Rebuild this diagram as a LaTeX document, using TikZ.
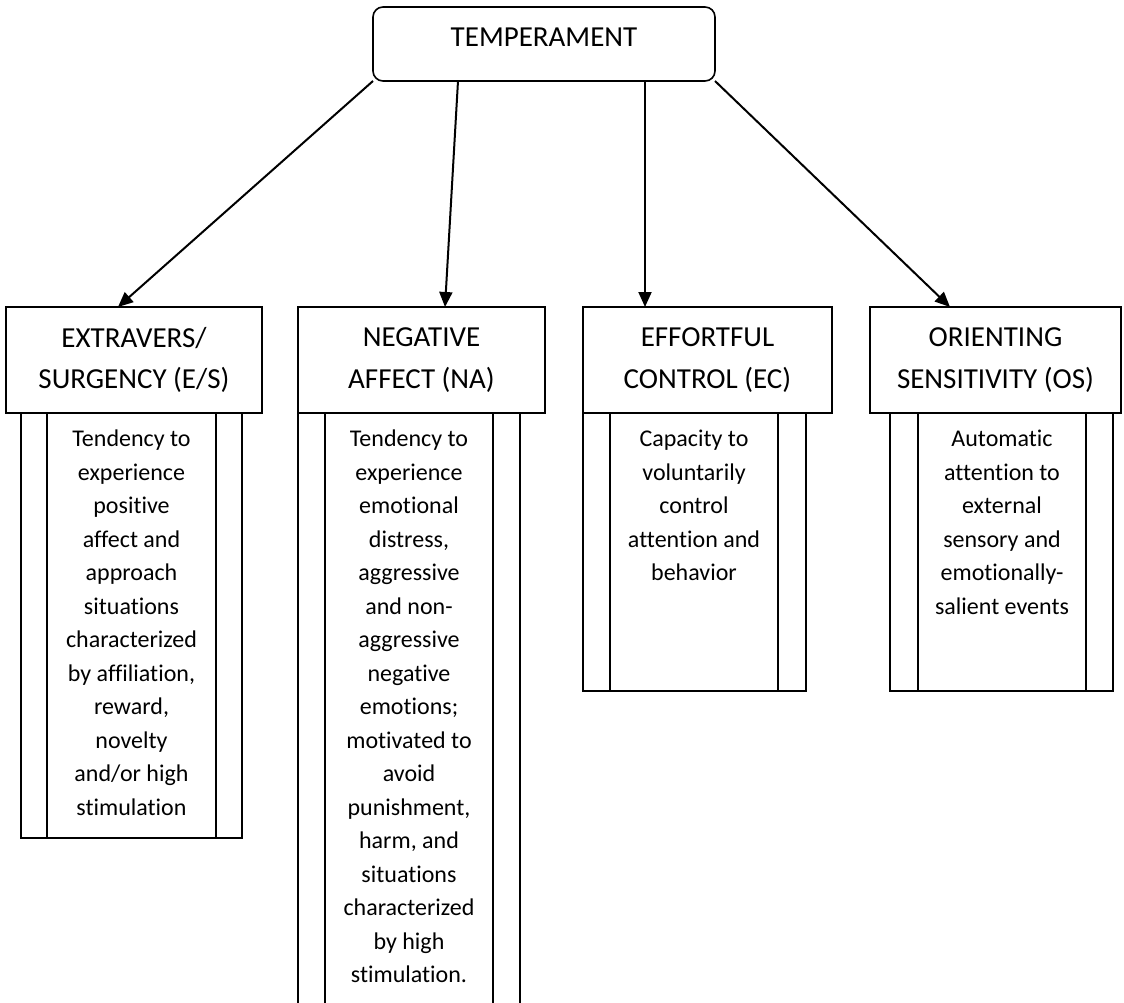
\documentclass[tikz,border=0pt]{standalone}
\usepackage{fontspec}
\setmainfont{Carlito}[Ligatures={NoCommon}]
\usetikzlibrary{arrows.meta}

\begin{document}
\begin{tikzpicture}[x=1pt,y=-1pt,
  every node/.style={inner sep=0pt, outer sep=0pt},
  rootbox/.style={draw, line width=1.6pt, rounded corners=10pt,
    minimum width=342pt, minimum height=74pt,
    font=\fontsize{29}{36}\selectfont, text depth=12.7pt},
  headbox/.style={draw, line width=1.6pt, align=center,
    minimum height=106pt, font=\fontsize{29}{41.5}\selectfont},
  framebox/.style={draw, line width=1.6pt, anchor=north west},
  rule/.style={line width=1.6pt},
  bodytext/.style={align=center, anchor=north,
    font=\fontsize{24}{33.5}\selectfont},
  link/.style={line width=2pt, -{Triangle[length=15pt,width=13pt]}},
]
\useasboundingbox (0,0) rectangle (1124,1003);
\clip (0,0) rectangle (1124,1003);
\fill[white] (0,0) rectangle (1124,1003);

% root
\node[rootbox] (root) at (544,44) {TEMPERAMENT};

% four dimension headers
\node[headbox, minimum width=256pt] (es) at (134,360)   {EXTRAVERS/\\SURGENCY (E/S)};
\node[headbox, minimum width=247pt] (na) at (421.5,360) {NEGATIVE\\AFFECT (NA)};
\node[headbox, minimum width=249pt] (ec) at (707.5,360) {EFFORTFUL\\CONTROL (EC)};
\node[headbox, minimum width=251pt] (os) at (995.5,360) {ORIENTING\\SENSITIVITY (OS)};

% description frames (predefined-process style, with inner rules)
\node[framebox, minimum width=221pt, minimum height=425pt] (esf) at (21,413) {};
\draw[rule] ([xshift=26pt]esf.north west) -- ([xshift=26pt]esf.south west);
\draw[rule] ([xshift=-26pt]esf.north east) -- ([xshift=-26pt]esf.south east);

\node[framebox, minimum width=222pt, minimum height=600pt] (naf) at (298,413) {};
\draw[rule] ([xshift=27pt]naf.north west) -- ([xshift=27pt]naf.south west);
\draw[rule] ([xshift=-27pt]naf.north east) -- ([xshift=-27pt]naf.south east);

\node[framebox, minimum width=223pt, minimum height=278pt] (ecf) at (583,413) {};
\draw[rule] ([xshift=27pt]ecf.north west) -- ([xshift=27pt]ecf.south west);
\draw[rule] ([xshift=-28pt]ecf.north east) -- ([xshift=-28pt]ecf.south east);

\node[framebox, minimum width=223pt, minimum height=278pt] (osf) at (890,413) {};
\draw[rule] ([xshift=28pt]osf.north west) -- ([xshift=28pt]osf.south west);
\draw[rule] ([xshift=-27pt]osf.north east) -- ([xshift=-27pt]osf.south east);

% descriptions
\node[bodytext] (est) at (131.5,423.5) {\strut Tendency to\\experience\\positive\\affect and\\approach\\situations\\characterized\\by affiliation,\\reward,\\novelty\\and/or high\\stimulation};
\node[bodytext] (nat) at (409,423.5) {\strut Tendency to\\experience\\emotional\\distress,\\aggressive\\and non-\\aggressive\\negative\\emotions;\\motivated to\\avoid\\punishment,\\harm, and\\situations\\characterized\\by high\\stimulation.};
\node[bodytext] (ect) at (694,423.5) {\strut Capacity to\\voluntarily\\control\\attention and\\behavior};
\node[bodytext] (ost) at (1002,423.5) {\strut Automatic\\attention to\\external\\sensory and\\emotionally-\\salient events};

% connectors
\draw[link] (root.south west) -- ([xshift=-16pt]es.north);
\draw[link] ([xshift=85pt]root.south west) -- ([xshift=23.5pt]na.north);
\draw[link] ([xshift=-70pt]root.south east) -- ([xshift=-62.5pt]ec.north);
\draw[link] (root.south east) -- ([xshift=-45.5pt]os.north);
\end{tikzpicture}
\end{document}
